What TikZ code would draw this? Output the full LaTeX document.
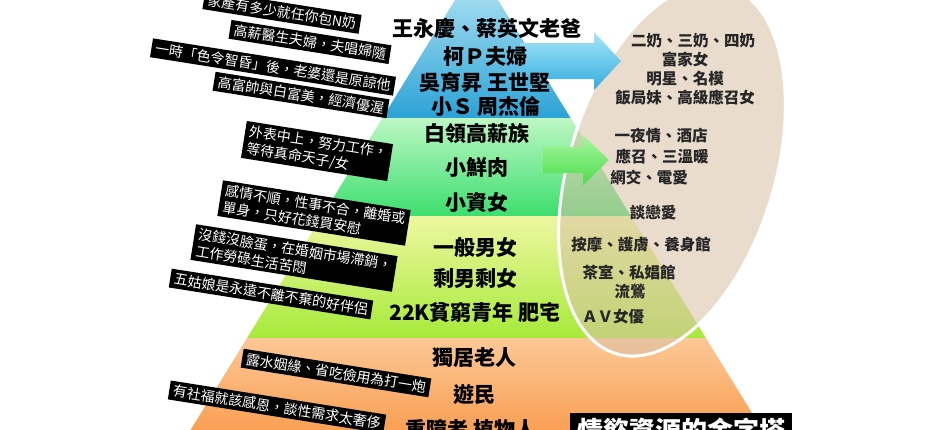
\documentclass[tikz,border=0pt]{standalone}
\usepackage{fontspec}
\newfontfamily\cjk{Noto Sans CJK TC}
\definecolor{beige}{RGB}{216,193,166}
\begin{document}
\begin{tikzpicture}[x=1pt,y=-1pt,
  lbl/.style={fill=black, text=white, font=\cjk\fontsize{14}{17}\selectfont, rotate=-9, inner xsep=4pt, inner ysep=3pt, align=left},
  pyr/.style={font=\cjk\bfseries\fontsize{21}{24}\selectfont, text=black, inner sep=0pt},
  ov/.style={font=\cjk\bfseries\fontsize{15.5}{18}\selectfont, text=black!85, inner sep=0pt}]
\path[use as bounding box] (0,0) rectangle (940,429);
\clip (0,0) rectangle (940,429);
% pyramid layers
\shade[top color={rgb,255:red,190;green,234;blue,247}, bottom color={rgb,255:red,44;green,162;blue,214}]
  (476.5,-35) -- (570.6,118) -- (382.4,118) -- cycle;
\shade[top color={rgb,255:red,190;green,247;blue,196}, bottom color={rgb,255:red,60;green,222;blue,110}]
  (382.4,118) -- (570.6,118) -- (630.8,216) -- (322.2,216) -- cycle;
\shade[top color={rgb,255:red,238;green,247;blue,160}, bottom color={rgb,255:red,166;green,234;blue,58}]
  (322.2,216) -- (630.8,216) -- (705.9,338) -- (247.1,338) -- cycle;
\shade[top color={rgb,255:red,252;green,200;blue,150}, bottom color={rgb,255:red,248;green,146;blue,62}]
  (247.1,338) -- (705.9,338) -- (780.9,460) -- (172.1,460) -- cycle;
% oval
\filldraw[draw=white, line width=3pt, fill=beige, fill opacity=0.56, shift={(672,170)}, rotate=73]
  (0,0) ellipse [x radius=192, y radius=103];
% arrows
\shade[top color={rgb,255:red,166;green,230;blue,248}, bottom color={rgb,255:red,51;green,172;blue,223}]
  (520,43) -- (594,43) -- (594,32) -- (621,61) -- (594,90) -- (594,79) -- (520,79) -- cycle;
\shade[top color={rgb,255:red,168;green,247;blue,160}, bottom color={rgb,255:red,76;green,220;blue,76}]
  (543,147) -- (583,147) -- (583,135) -- (609,160) -- (583,185) -- (583,173) -- (543,173) -- cycle;
% pyramid texts
\node[pyr] (p1) at (487,28) {王永慶、蔡英文老爸};
\node[pyr] (p2) at (485,57) {柯Ｐ夫婦};
\node[pyr] (p3) at (485,83) {吳育昇 王世堅};
\node[pyr] (p4) at (486,106) {小Ｓ 周杰倫};
\node[pyr] (p5) at (477,133) {白領高薪族};
\node[pyr] (p6) at (477,168) {小鮮肉};
\node[pyr] (p7) at (477,202) {小資女};
\node[pyr] (p8) at (475,247) {一般男女};
\node[pyr] (p9) at (475,278) {剩男剩女};
\node[pyr] (p10) at (475,313) {22K貧窮青年 肥宅};
\node[pyr] (p11) at (474,358) {獨居老人};
\node[pyr] (p12) at (474,395) {遊民};
\node[pyr] (p13) at (471,429) {重障者 植物人};
% oval texts
\node[ov] (o1) at (693,41) {二奶、三奶、四奶};
\node[ov] (o2) at (685,60) {富家女};
\node[ov] (o3) at (685,79) {明星、名模};
\node[ov] (o4) at (685,98) {飯局妹、高級應召女};
\node[ov] (o5) at (661,136) {一夜情、酒店};
\node[ov] (o6) at (662,157) {應召、三溫暖};
\node[ov] (o7) at (649,178) {網交、電愛};
\node[ov] (o8) at (653,213) {談戀愛};
\node[ov] (o9) at (641,245) {按摩、護膚、養身館};
\node[ov] (o10) at (629,272) {茶室、私娼館};
\node[ov] (o11) at (630,292) {流鶯};
\node[ov] (o12) at (613,317) {ＡＶ女優};
% labels
\node[lbl] (l1) at (282,12) {家產有多少就任你包N奶};
\node[lbl] (l2) at (310,42) {高薪醫生夫婦，夫唱婦隨};
\node[lbl] (l3) at (273,67) {一時「色令智昏」後，老婆還是原諒他};
\node[lbl] (l4) at (301,95) {高富帥與白富美，經濟優渥};
\node[lbl] (l5) at (317,151) {外表中上，努力工作，\\等待真命天子/女};
\node[lbl] (l6) at (314,213) {感情不順，性事不合，離婚或\\單身，只好花錢買安慰};
\node[lbl] (l7) at (294,258) {沒錢沒臉蛋，在婚姻市場滯銷，\\工作勞碌生活苦悶};
\node[lbl] (l8) at (271,294) {五姑娘是永遠不離不棄的好伴侶};
\node[lbl] (l9) at (336,373) {露水姻緣、省吃儉用為打一炮};
\node[lbl] (l10) at (277,407) {有社福就該感恩，談性需求太奢侈};
% title
\fill[black] (570,413) rectangle (792,460);
\node[font=\cjk\bfseries\fontsize{26}{30}\selectfont, text=white, inner sep=0pt] (t) at (681,431) {情慾資源的金字塔};
\end{tikzpicture}
\end{document}
